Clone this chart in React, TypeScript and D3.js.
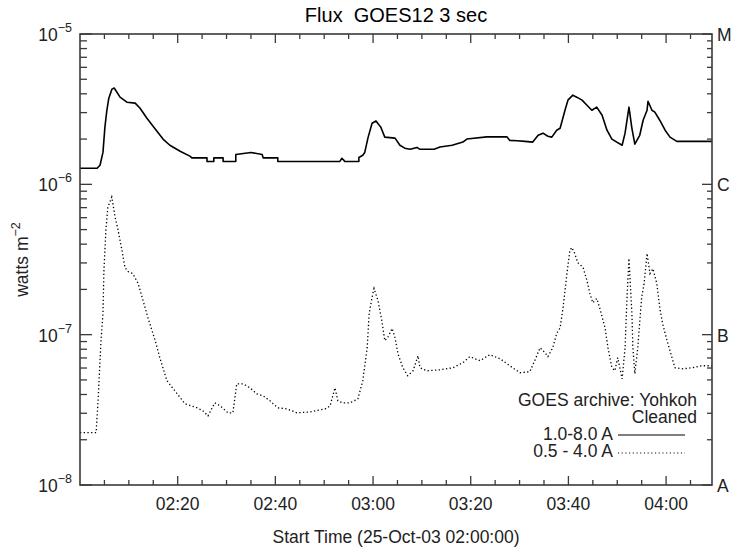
import React from 'react';
import * as d3 from 'd3';

// minutes after 02:00 UT, flux in W m^-2
const longTime = [0, 3.5, 4.1, 4.7, 5.1, 5.5, 5.9, 6.55, 7.0, 8.2, 9.6, 11.3, 12.3, 13.7, 15.4, 17.0, 18.4, 20.5, 22.5, 22.9, 26.0, 26.0, 27.4, 27.4, 29.3, 29.3, 31.9, 31.9, 35.0, 37.3, 37.5, 40.5, 40.5, 53.2, 53.6, 54.0, 54.2, 57.1, 57.1, 57.9, 58.3, 59.0, 59.8, 60.6, 61.6, 62.4, 64.5, 65.5, 66.5, 67.6, 69.0, 69.6, 72.5, 73.7, 76.2, 78.4, 79.2, 83.3, 87.4, 88.0, 89.5, 91.1, 92.7, 93.8, 94.8, 95.8, 96.6, 97.6, 98.3, 99.3, 99.9, 100.9, 101.7, 102.8, 103.8, 104.8, 105.8, 106.9, 107.9, 108.9, 109.9, 111.0, 111.6, 112.4, 113.0, 113.6, 114.6, 115.3, 116.1, 116.3, 117.1, 117.7, 118.7, 119.8, 120.8, 122.2, 129.4];
const longFlux = [1.28e-6, 1.28e-6, 1.34e-6, 1.63e-6, 2.40e-6, 3.11e-6, 3.74e-6, 4.30e-6, 4.37e-6, 3.80e-6, 3.52e-6, 3.47e-6, 3.21e-6, 2.75e-6, 2.33e-6, 2.00e-6, 1.82e-6, 1.66e-6, 1.54e-6, 1.50e-6, 1.50e-6, 1.42e-6, 1.42e-6, 1.50e-6, 1.50e-6, 1.42e-6, 1.42e-6, 1.58e-6, 1.63e-6, 1.58e-6, 1.50e-6, 1.50e-6, 1.42e-6, 1.42e-6, 1.49e-6, 1.45e-6, 1.42e-6, 1.42e-6, 1.51e-6, 1.56e-6, 1.63e-6, 2.06e-6, 2.55e-6, 2.64e-6, 2.40e-6, 2.06e-6, 2.03e-6, 1.82e-6, 1.74e-6, 1.71e-6, 1.76e-6, 1.71e-6, 1.71e-6, 1.77e-6, 1.82e-6, 1.91e-6, 2.00e-6, 2.07e-6, 2.07e-6, 1.96e-6, 1.95e-6, 1.93e-6, 1.91e-6, 2.12e-6, 2.19e-6, 2.09e-6, 2.06e-6, 2.29e-6, 2.36e-6, 3.11e-6, 3.63e-6, 3.92e-6, 3.80e-6, 3.63e-6, 3.36e-6, 3.11e-6, 3.26e-6, 2.88e-6, 2.29e-6, 2.00e-6, 1.91e-6, 1.82e-6, 2.19e-6, 3.26e-6, 2.36e-6, 1.85e-6, 2.12e-6, 2.67e-6, 3.11e-6, 3.57e-6, 3.11e-6, 3.02e-6, 2.67e-6, 2.29e-6, 2.06e-6, 1.93e-6, 1.93e-6];

const shortTime = [0, 3.3, 3.7, 4.3, 4.7, 4.9, 5.3, 5.7, 6.5, 7.2, 7.8, 8.6, 9.2, 9.8, 10.8, 11.9, 12.9, 13.9, 15.4, 16.4, 17.8, 19.9, 21.5, 24.0, 25.2, 26.2, 27.6, 28.7, 30.3, 31.3, 32.1, 33.4, 34.8, 36.2, 37.5, 38.9, 40.5, 42.4, 44.4, 47.1, 50.2, 51.2, 52.2, 52.8, 53.8, 55.3, 56.9, 57.9, 58.8, 59.2, 59.8, 60.2, 61.0, 61.8, 62.4, 63.0, 63.9, 64.5, 65.1, 66.1, 67.1, 68.2, 69.2, 69.6, 71.0, 73.7, 76.4, 78.4, 79.8, 81.9, 83.9, 86.0, 88.0, 90.1, 92.1, 93.1, 94.2, 95.2, 95.8, 96.8, 97.6, 98.3, 98.9, 99.7, 100.3, 100.7, 101.3, 101.9, 103.0, 103.8, 104.4, 105.0, 105.8, 106.4, 107.5, 108.1, 108.9, 109.5, 110.1, 111.0, 111.6, 112.0, 112.4, 113.0, 113.2, 113.6, 114.2, 115.0, 115.5, 116.1, 116.7, 117.3, 118.1, 118.7, 119.3, 120.2, 120.8, 121.8, 123.4, 125.5, 127.3, 129.4];
const shortFlux = [2.23e-8, 2.23e-8, 3.63e-8, 9.12e-8, 1.38e-7, 2.67e-7, 4.94e-7, 7.03e-7, 8.23e-7, 6.03e-7, 4.94e-7, 3.63e-7, 2.80e-7, 2.63e-7, 2.55e-7, 2.19e-7, 1.69e-7, 1.30e-7, 9.12e-8, 6.92e-8, 4.94e-8, 4.04e-8, 3.47e-8, 3.26e-8, 3.11e-8, 2.88e-8, 3.52e-8, 3.36e-8, 3.02e-8, 3.02e-8, 4.71e-8, 4.71e-8, 4.43e-8, 4.04e-8, 3.92e-8, 3.63e-8, 3.26e-8, 3.21e-8, 3.02e-8, 3.06e-8, 3.21e-8, 3.36e-8, 4.43e-8, 3.63e-8, 3.52e-8, 3.52e-8, 3.74e-8, 4.94e-8, 8.19e-8, 1.38e-7, 1.77e-7, 2.03e-7, 1.69e-7, 1.24e-7, 9.12e-8, 9.55e-8, 1.10e-7, 9.55e-8, 7.47e-8, 6.03e-8, 5.33e-8, 5.75e-8, 7.24e-8, 6.03e-8, 5.75e-8, 5.84e-8, 6.03e-8, 6.51e-8, 7.14e-8, 6.71e-8, 7.36e-8, 6.92e-8, 6.21e-8, 5.58e-8, 5.67e-8, 6.71e-8, 8.19e-8, 7.59e-8, 7.14e-8, 8.19e-8, 1.02e-7, 1.11e-7, 1.51e-7, 2.55e-7, 3.63e-7, 3.80e-7, 3.47e-7, 3.02e-7, 2.80e-7, 2.29e-7, 1.88e-7, 1.63e-7, 1.74e-7, 1.51e-7, 1.11e-7, 8.19e-8, 6.03e-8, 5.75e-8, 7.03e-8, 5.09e-8, 8.19e-8, 1.77e-7, 3.21e-7, 1.38e-7, 8.19e-8, 5.50e-8, 8.19e-8, 1.77e-7, 2.19e-7, 3.47e-7, 2.55e-7, 2.75e-7, 2.19e-7, 1.51e-7, 1.18e-7, 9.12e-8, 7.82e-8, 6.03e-8, 5.93e-8, 6.03e-8, 6.21e-8, 6.21e-8];

const xMajor = [20, 40, 60, 80, 100, 120];
const xLabels = ['02:20', '02:40', '03:00', '03:20', '03:40', '04:00'];
const decades = [-5, -6, -7, -8];
const classLabels = ['M', 'C', 'B', 'A'];
const legendLabels = ['1.0-8.0 A', '0.5 - 4.0 A'];

const W = 736;
const H = 550;
const m = { left: 80, right: 712, top: 34, bottom: 485 };
const font = '"Liberation Sans", Arial, Helvetica, sans-serif';
const axisColor = '#3a3a3a';

export default function App() {
  const x = d3.scaleLinear().domain([0, 129.4]).range([m.left, m.right]);
  const y = d3.scaleLog().domain([1e-8, 1e-5]).range([m.bottom, m.top]);

  const longPath = d3.line<number>()
    .x((_, i) => x(longTime[i]))
    .y((d) => y(d))(longFlux) || '';
  const shortPath = d3.line<number>()
    .x((_, i) => x(shortTime[i]))
    .y((d) => y(d))(shortFlux) || '';

  const minorX = d3.range(5, 129.4, 5).filter((t) => t % 20 !== 0);
  const minorY: number[] = [];
  decades.slice(1).forEach((e) => {
    for (let k = 2; k <= 9; k++) minorY.push(k * Math.pow(10, e));
  });

  return (
    <svg width={W} height={H} style={{ position: 'absolute', left: 0, top: 0, background: '#fff' }}
      fontFamily={font}>
      <text x={(m.left + m.right) / 2} y={22} textAnchor="middle" fontSize={20}
        style={{ whiteSpace: 'pre' }}>{'Flux  GOES12 3 sec'}</text>

      {/* data */}
      <path d={longPath} fill="none" stroke="#000" strokeWidth={1.6} strokeLinejoin="round" />
      <path d={shortPath} fill="none" stroke="#000" strokeWidth={1.3} strokeDasharray="1.3 2.4" />

      {/* frame */}
      <rect x={m.left} y={m.top} width={m.right - m.left} height={m.bottom - m.top}
        fill="none" stroke={axisColor} strokeWidth={1.6} />

      {/* x ticks */}
      {xMajor.map((t, i) => (
        <g key={'xm' + t}>
          <line x1={x(t)} x2={x(t)} y1={m.bottom} y2={m.bottom - 9} stroke={axisColor} strokeWidth={1.3} />
          <line x1={x(t)} x2={x(t)} y1={m.top} y2={m.top + 9} stroke={axisColor} strokeWidth={1.3} />
          <text x={x(t)} y={510} textAnchor="middle" fontSize={17.5} fill="#222">{xLabels[i]}</text>
        </g>
      ))}
      {minorX.map((t) => (
        <g key={'xn' + t}>
          <line x1={x(t)} x2={x(t)} y1={m.bottom} y2={m.bottom - 5} stroke={axisColor} strokeWidth={1.3} />
          <line x1={x(t)} x2={x(t)} y1={m.top} y2={m.top + 5} stroke={axisColor} strokeWidth={1.3} />
        </g>
      ))}

      {/* y ticks */}
      {decades.map((e, i) => (
        <g key={'yd' + e}>
          <line x1={m.left} x2={m.left + 12} y1={y(Math.pow(10, e))} y2={y(Math.pow(10, e))} stroke={axisColor} strokeWidth={1.3} />
          <line x1={m.right} x2={m.right - 10} y1={y(Math.pow(10, e))} y2={y(Math.pow(10, e))} stroke={axisColor} strokeWidth={1.3} />
          <text x={72} y={y(Math.pow(10, e)) + 7} textAnchor="end" fontSize={17.5} fill="#222">
            10<tspan dy={-9} fontSize={12.5}>{'\u2212' + Math.abs(e)}</tspan>
          </text>
          <text x={717} y={y(Math.pow(10, e)) + 7} fontSize={17.5} fill="#222">{classLabels[i]}</text>
        </g>
      ))}
      {minorY.map((v, i) => (
        <g key={'yn' + i}>
          <line x1={m.left} x2={m.left + 7} y1={y(v)} y2={y(v)} stroke={axisColor} strokeWidth={1.3} />
          <line x1={m.right} x2={m.right - 5} y1={y(v)} y2={y(v)} stroke={axisColor} strokeWidth={1.3} />
        </g>
      ))}

      {/* axis titles */}
      <text x={(m.left + m.right) / 2} y={543} textAnchor="middle" fontSize={17.5} fill="#222">
        Start Time (25-Oct-03 02:00:00)
      </text>
      <text transform={`translate(28,${(m.top + m.bottom) / 2}) rotate(-90)`} textAnchor="middle" fontSize={17.5} fill="#222">
        watts m<tspan dy={-8} fontSize={12.5}>{'\u22122'}</tspan>
      </text>

      {/* legend */}
      <text x={697} y={406} textAnchor="end" fontSize={17.5} fill="#222">GOES archive: Yohkoh</text>
      <text x={697} y={423} textAnchor="end" fontSize={17.5} fill="#222">Cleaned</text>
      {legendLabels.map((lab, i) => (
        <g key={lab}>
          <text x={613} y={440 + i * 17} textAnchor="end" fontSize={17.5} fill="#222">{lab}</text>
          <line x1={618} x2={685} y1={435 + i * 18} y2={435 + i * 18} stroke="#000"
            strokeWidth={i === 0 ? 1.2 : 1.1} strokeDasharray={i === 0 ? undefined : '1.1 2.6'} />
        </g>
      ))}
    </svg>
  );
}
